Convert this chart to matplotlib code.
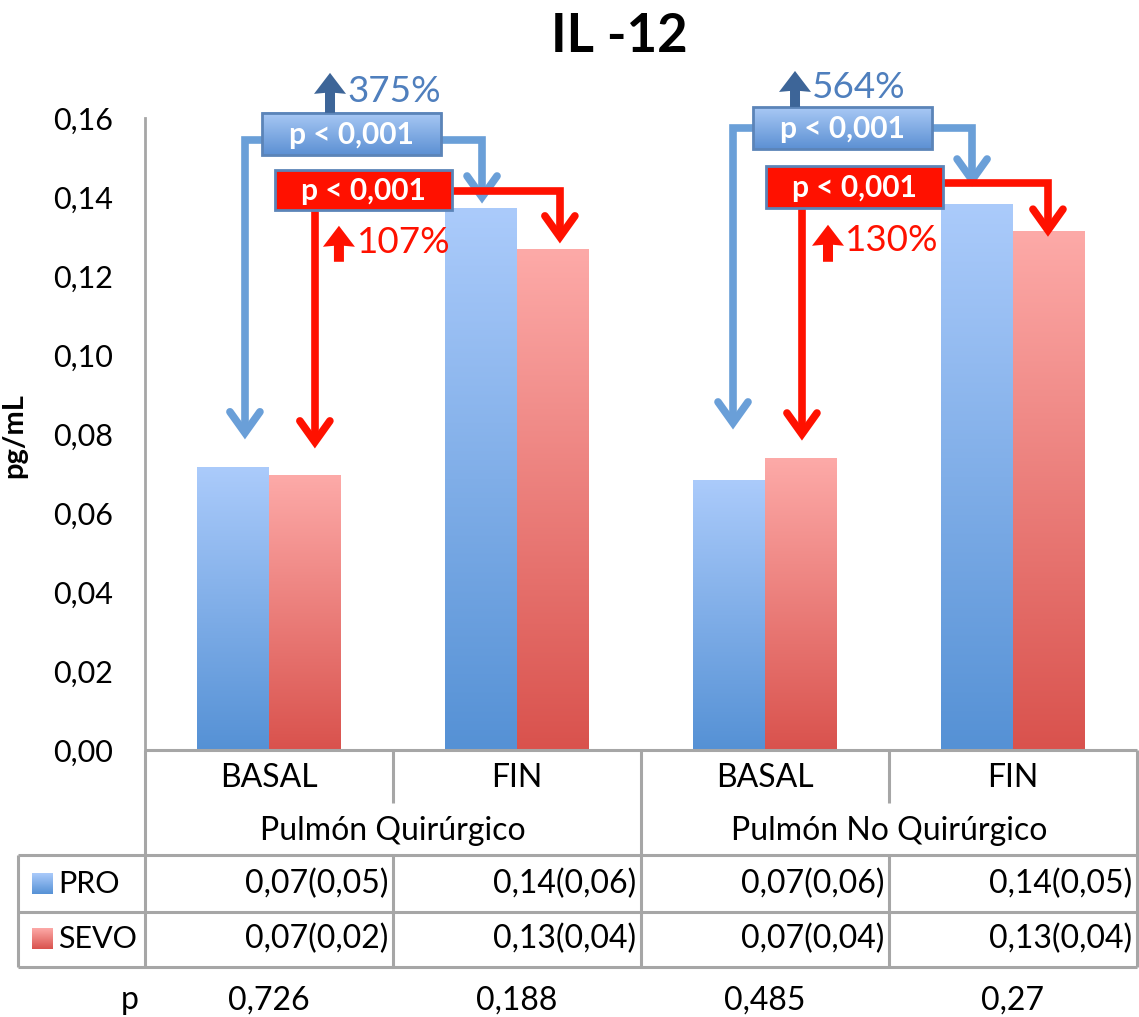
import numpy as np
import matplotlib
matplotlib.use("Agg")
import matplotlib.pyplot as plt
import matplotlib.transforms as mtransforms
from matplotlib.colors import LinearSegmentedColormap
from matplotlib.patches import Polygon, Rectangle

plt.rcParams['font.family'] = ['Lato', 'DejaVu Sans']

# data
periods = ["BASAL", "FIN", "BASAL", "FIN"]
groups = ["Pulmón Quirúrgico", "Pulmón No Quirúrgico"]
pro = [0.0716, 0.1372, 0.0684, 0.1382]
sevo = [0.0696, 0.1268, 0.0739, 0.1314]
pro_txt = ["0,07(0,05)", "0,14(0,06)", "0,07(0,06)", "0,14(0,05)"]
sevo_txt = ["0,07(0,02)", "0,13(0,04)", "0,07(0,04)", "0,13(0,04)"]
p_vals = ["0,726", "0,188", "0,485", "0,27"]
pct_pro = ["375%", "564%"]
pct_sevo = ["107%", "130%"]

BLUE_TOP, BLUE_BOT = "#abcbfb", "#5591d5"
RED_TOP, RED_BOT = "#fdaaa8", "#d9524d"
GRID = "#a6a6a6"
ARROW_BLUE = "#6a9fd8"
ARROW_RED = "#ff1100"
FS = 23

fig = plt.figure(figsize=(11.39, 10.17), dpi=100)
ax = fig.add_axes([145 / 1139, 1 - 750 / 1017, 992 / 1139, 632 / 1017])

grad = np.linspace(0, 1, 256).reshape(-1, 1)


def gradient_fill(patch, top, bottom, z):
    cmap = LinearSegmentedColormap.from_list("g", [bottom, top])
    x0, y0 = patch.get_x(), patch.get_y()
    x1, y1 = x0 + patch.get_width(), y0 + patch.get_height()
    im = ax.imshow(grad, extent=(x0, x1, y0, y1), origin="lower", cmap=cmap,
                   aspect="auto", zorder=z, interpolation="bicubic")
    if y1 > 0.16 or y0 < 0:
        im.set_clip_on(False)
    im.set_clip_path(patch)
    return im


x = np.arange(len(periods)) + 0.5
w = 0.29
bars_pro = ax.bar(x - w / 2, pro, w, facecolor="none", edgecolor="none", zorder=2)
bars_sevo = ax.bar(x + w / 2, sevo, w, facecolor="none", edgecolor="none", zorder=2)
for b in bars_pro:
    gradient_fill(b, BLUE_TOP, BLUE_BOT, 2)
for b in bars_sevo:
    gradient_fill(b, RED_TOP, RED_BOT, 2)

ax.set_xlim(0, 4)
ax.set_ylim(0, 0.16)
ticks = np.arange(0, 0.161, 0.02)
ax.set_yticks(ticks)
ax.set_yticklabels([f"{v:.2f}".replace(".", ",") for v in ticks])
ax.tick_params(axis="y", length=0, pad=23, labelsize=22)
ax.set_xticks([])
for s in ["top", "right", "bottom"]:
    ax.spines[s].set_visible(False)
ax.spines["left"].set_color(GRID)
ax.spines["left"].set_linewidth(2)
ax.set_ylabel("pg/mL", fontsize=21, fontweight="bold")
ax.yaxis.set_label_coords(-0.119, 0.498)

fig.text(0.544, 1 - 36 / 1017, "IL -12", fontsize=38, fontweight="bold",
         ha="center", va="center")

# category table under the axis
y_cat, y_top = -0.0134, -0.0266
y_mid, y_bot = -0.0410, -0.0549
x_left = -0.512
lk = dict(color=GRID, lw=2.2, clip_on=False, solid_capstyle="butt")
ax.plot([0, 4], [0, 0], **lk)
ax.plot([0, 0], [0, y_bot], **lk)
for xv in [1, 3]:
    ax.plot([xv, xv], [0, y_cat], **lk)
    ax.plot([xv, xv], [y_top, y_bot], **lk)
for xv in [2, 4]:
    ax.plot([xv, xv], [0, y_bot], **lk)
for yv in [y_top, y_mid, y_bot]:
    ax.plot([x_left, 4], [yv, yv], **lk)
ax.plot([x_left, x_left], [y_top, y_bot], **lk)

for i, lab in enumerate(periods):
    ax.text(x[i], -0.0071, lab, fontsize=FS, ha="center", va="center")
for j, g in enumerate(groups):
    ax.text(2 * j + 1, -0.0206, g, fontsize=FS, ha="center", va="center")
for i in range(4):
    ax.text(i + 0.98, -0.0338, pro_txt[i], fontsize=FS, ha="right", va="center")
    ax.text(i + 0.98, -0.0479, sevo_txt[i], fontsize=FS, ha="right", va="center")
    ax.text(x[i], -0.0633, p_vals[i], fontsize=FS, ha="center", va="center")
ax.text(-0.06, -0.0633, "p", fontsize=FS, ha="center", va="center")

for yc, lab, top, bot in [(-0.0338, "PRO", BLUE_TOP, BLUE_BOT),
                          (-0.0479, "SEVO", RED_TOP, RED_BOT)]:
    sq = Rectangle((-0.456, yc - 0.0026), 0.081, 0.0052, facecolor="none",
                   edgecolor="none", clip_on=False)
    ax.add_patch(sq)
    gradient_fill(sq, top, bot, 3)
    ax.text(-0.35, yc, lab, fontsize=22, ha="left", va="center")


def px(xd, yd):
    # pixel offsets around a data point
    return mtransforms.Affine2D() + mtransforms.ScaledTranslation(xd, yd, ax.transData)


def chevron(xa, ya, color):
    ax.plot([-15, 0, 15], [21, 0, 21], transform=px(xa, ya), color=color,
            lw=5.5, solid_capstyle="round", solid_joinstyle="miter",
            clip_on=False, zorder=4)


def line(xs, ys, color):
    ax.plot(xs, ys, color=color, lw=5.5, clip_on=False, solid_joinstyle="miter",
            solid_capstyle="butt", zorder=4)


def pbox(x0, x1, y0, y1, top, bottom):
    r = Rectangle((x0, y0), x1 - x0, y1 - y0, facecolor="none",
                  edgecolor="#5b84b8", lw=2, clip_on=False, zorder=6)
    ax.add_patch(r)
    if top == bottom:
        r.set_facecolor(top)
    else:
        gradient_fill(r, top, bottom, 5)
    ax.text((x0 + x1) / 2, (y0 + y1) / 2 - 0.0003, "p < 0,001", color="white",
            fontsize=21.5, fontweight="bold", ha="center", va="center", zorder=7)


def up_arrow(xa, ya, h, color):
    pts = [(-5, 0), (5, 0), (5, h - 20), (16, h - 21), (0, h), (-16, h - 21), (-5, h - 20)]
    ax.add_patch(Polygon(pts, closed=True, facecolor=color, edgecolor="none",
                         transform=px(xa, ya), clip_on=False, zorder=6))


# annotation layout: brackets, boxes and percentage labels per lung
ann = [
    dict(bl=0.403, bt=0.0803, btop=0.1544, br=1.359, brt=0.1400,
         rl=0.685, rt=0.0780, rtop=0.1415, rr=1.673, rrt=0.1299,
         bbox=(0.472, 1.194, 0.1506, 0.1613), rbox=(0.524, 1.238, 0.1367, 0.1468),
         ua=(0.746, 0.1613, 40), ut=(0.815, 0.1666),
         ra=(0.782, 0.1236, 36), rtx=(0.855, 0.1284)),
    dict(bl=2.371, bt=0.0828, btop=0.1575, br=3.335, brt=0.1443,
         rl=2.649, rt=0.0800, rtop=0.1435, rr=3.641, rrt=0.1316,
         bbox=(2.452, 3.173, 0.1522, 0.1628), rbox=(2.504, 3.218, 0.1372, 0.1478),
         ua=(2.621, 0.1628, 36), ut=(2.690, 0.1676),
         ra=(2.754, 0.1236, 37), rtx=(2.823, 0.1291)),
]

for k, a in enumerate(ann):
    line([a["bl"], a["bl"], a["br"], a["br"]], [a["bt"], a["btop"], a["btop"], a["brt"]], ARROW_BLUE)
    chevron(a["bl"], a["bt"], ARROW_BLUE)
    chevron(a["br"], a["brt"], ARROW_BLUE)
    line([a["rl"], a["rl"]], [a["rbox"][2], a["rt"]], ARROW_RED)
    chevron(a["rl"], a["rt"], ARROW_RED)
    line([a["rbox"][1], a["rr"], a["rr"]], [a["rtop"], a["rtop"], a["rrt"]], ARROW_RED)
    chevron(a["rr"], a["rrt"], ARROW_RED)
    pbox(*a["bbox"], "#a9c9f5", "#5c90d3")
    pbox(*a["rbox"], ARROW_RED, ARROW_RED)
    up_arrow(*a["ua"], "#3d6598")
    ax.text(*a["ut"], pct_pro[k], color="#4f7fbd", fontsize=26.5, ha="left", va="center", zorder=6)
    up_arrow(*a["ra"], ARROW_RED)
    ax.text(*a["rtx"], pct_sevo[k], color=ARROW_RED, fontsize=26.5, ha="left", va="center", zorder=6)

ax.set_xlim(0, 4)
ax.set_ylim(0, 0.16)

fig.savefig("out.png", dpi=100)
